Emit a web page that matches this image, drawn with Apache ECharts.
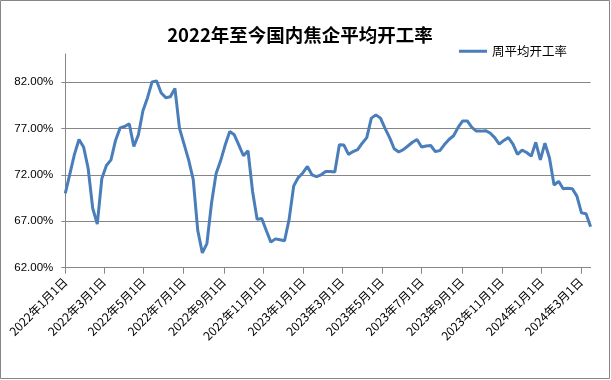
<!DOCTYPE html>
<html><head><meta charset="utf-8">
<script src="https://cdn.jsdelivr.net/npm/echarts@6/dist/echarts.min.js"></script>
<style>html,body{margin:0;padding:0;background:#fff}#c{width:611px;height:380px}</style>
</head><body><div id="c"></div>
<script>
// Weekly observations, starting 2022-01-01, one value per week (%)
const startDate = '2022-01-01';
const rates = [
70.0, 72.1, 74.2, 75.8, 75.0, 72.7, 68.4, 66.7, 71.6, 73.0,
73.6, 75.7, 77.05, 77.2, 77.5, 75.05, 76.3, 78.9, 80.3, 82.0,
82.1, 80.8, 80.3, 80.4, 81.3, 77.0, 75.3, 73.6, 71.5, 66.0,
63.6, 64.6, 68.9, 72.1, 73.5, 75.2, 76.65, 76.3, 75.2, 74.05,
74.6, 70.2, 67.2, 67.3, 66.0, 64.75, 65.1, 65.0, 64.9, 67.2,
70.8, 71.7, 72.2, 72.9, 72.0, 71.8, 72.0, 72.35, 72.35, 72.3,
75.24, 75.2, 74.2, 74.5, 74.7, 75.4, 76.0, 78.1, 78.45, 78.1,
77.0, 76.0, 74.8, 74.45, 74.7, 75.1, 75.5, 75.8, 75.0, 75.1,
75.15, 74.5, 74.6, 75.25, 75.8, 76.2, 77.1, 77.8, 77.8, 77.1,
76.7, 76.7, 76.75, 76.5, 76.0, 75.3, 75.7, 76.0, 75.3, 74.2,
74.65, 74.4, 74.0, 75.5, 73.6, 75.4, 73.8, 70.9, 71.3, 70.5,
70.55, 70.5, 69.7, 67.9, 67.8, 66.4
];
const xTicks = ['2022-01-01','2022-03-01','2022-05-01','2022-07-01','2022-09-01','2022-11-01',
'2023-01-01','2023-03-01','2023-05-01','2023-07-01','2023-09-01','2023-11-01','2024-01-01','2024-03-01'];
const yTicks = [62, 67, 72, 77, 82];
const seriesName = '周平均开工率';
const titleText = '2022年至今国内焦企平均开工率';

const DAY = 86400000;
function dayNum(s){ const p = s.split('-').map(Number); return Date.UTC(p[0], p[1]-1, p[2]) / DAY; }
const d0 = dayNum(startDate);
const data = rates.map((v, i) => [d0 + 7 * i, v]);
const tickDays = xTicks.map(dayNum);

const chart = echarts.init(document.getElementById('c'));
chart.setOption({
  animation: false,
  backgroundColor: '#fff',
  title: {
    text: titleText, left: 295, textAlign: 'center', top: 21,
    textStyle: {fontFamily: 'Noto Sans CJK SC', fontWeight: 'bold', fontSize: 18.5, color: '#000'}
  },
  legend: {
    data: [{name: seriesName, icon: 'rect'}], left: 454, top: 40, itemWidth: 28, itemHeight: 3,
    textStyle: {fontFamily: 'Noto Sans CJK SC', fontSize: 12.5, color: '#000'}
  },
  grid: {left: 65.3, right: 20.4, top: 54, bottom: 112.3, containLabel: false},
  xAxis: {
    type: 'value',
    min: data[0][0], max: data[data.length - 1][0],
    axisLine: {lineStyle: {color: '#868686', width: 1}},
    axisTick: {show: true, length: 6, customValues: tickDays, lineStyle: {color: '#868686'}},
    axisLabel: {
      customValues: tickDays, rotate: 45, margin: 12, color: '#000',
      fontFamily: 'Noto Sans CJK SC', fontSize: 12,
      formatter: function (v) { const d = new Date(v * DAY); return d.getUTCFullYear() + '年' + (d.getUTCMonth() + 1) + '月' + d.getUTCDate() + '日'; }
    },
    splitLine: {show: false}
  },
  yAxis: {
    type: 'value', min: 62, max: 85,
    axisLine: {show: true, lineStyle: {color: '#868686', width: 1}},
    axisTick: {show: true, length: 4, customValues: yTicks, lineStyle: {color: '#868686'}},
    axisLabel: {
      customValues: yTicks, margin: 12, color: '#000', fontFamily: 'Liberation Sans', fontSize: 11.5,
      formatter: v => v.toFixed(2) + '%'
    },
    splitLine: {show: true, lineStyle: {color: '#868686', width: 1}}
  },
  series: [{
    name: seriesName, type: 'line', data: data, symbol: 'none', smooth: false,
    lineStyle: {color: '#4A7EBB', width: 3}, itemStyle: {color: '#4A7EBB'}
  }],
  graphic: [{
    type: 'rect', shape: {x: 0.5, y: 0.5, width: 609, height: 378},
    style: {fill: null, stroke: '#868686', lineWidth: 1}, silent: true, z: 100
  }]
});
</script></body></html>
